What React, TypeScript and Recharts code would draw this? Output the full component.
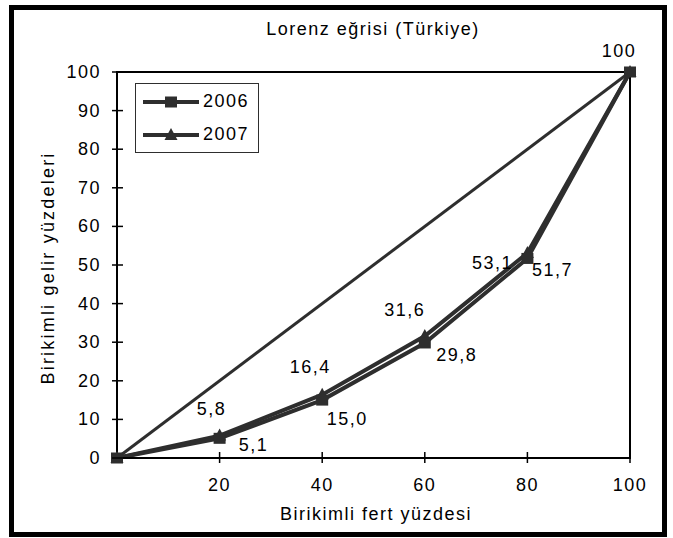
import React from 'react'
import {
  LineChart, Line, XAxis, YAxis, ReferenceLine, ReferenceArea, LabelList,
} from 'recharts'

/* ── data ─────────────────────────────────────────────── */
const fertYuzdesi = [0, 20, 40, 60, 80, 100]
const gelir2006 = [0, 5.1, 15.0, 29.8, 51.7, 100]
const gelir2007 = [0, 5.8, 16.4, 31.6, 53.1, 100]
const xTicks = [20, 40, 60, 80, 100]
const yTicks = [0, 10, 20, 30, 40, 50, 60, 70, 80, 90, 100]

const TITLE = 'Lorenz eğrisi (Türkiye)'
const X_LABEL = 'Birikimli fert yüzdesi'
const Y_LABEL = 'Birikimli gelir yüzdeleri'

const rows = fertYuzdesi.map((x, i) => ({ x, y2006: gelir2006[i], y2007: gelir2007[i] }))

/* ── styles ───────────────────────────────────────────── */
const FONT = '"Liberation Sans", Arial, sans-serif'
const FS = 18
const LS = 1.5
const INK = '#000'
const LINE = '#2e2e2e'

// label offsets (dx, dy) from each point; null = no label
const OFFS_2006: ([number, number] | null)[] = [null, [34, 7], [25, 19], [32, 12], [25, 12], [-11, -21]]
const OFFS_2007: ([number, number] | null)[] = [null, [-8, -27], [-12, -28], [-20, -26], [-35, 10], null]

const fmt = (v: number) => (v === 100 ? '100' : v.toFixed(1).replace('.', ','))

const makeLabel = (offs: ([number, number] | null)[]) => (props: any) => {
  const { x, y, value, index } = props
  const o = offs[index]
  if (!o) return null
  return (
    <text x={x + o[0]} y={y + o[1]} textAnchor="middle" dominantBaseline="central"
      fontFamily={FONT} fontSize={FS} letterSpacing={LS} fill={INK}>
      {fmt(value)}
    </text>
  )
}

const Square = (props: any) => {
  const { cx, cy } = props
  if (cx == null || cy == null) return null
  return <rect x={cx - 6} y={cy - 5.5} width={12} height={11} fill={LINE} />
}

const Triangle = (props: any) => {
  const { cx, cy } = props
  if (cx == null || cy == null) return null
  return <path d={`M${cx},${cy - 7} L${cx + 6.5},${cy + 5} L${cx - 6.5},${cy + 5} Z`} fill={LINE} />
}

const YTick = (props: any) => {
  const { x, y, payload } = props
  return (
    <g>
      <line x1={x - 5} x2={x + 6} y1={y} y2={y} stroke={INK} strokeWidth={1.5} />
      <text x={x - 16} y={y} textAnchor="end" dominantBaseline="central"
        fontFamily={FONT} fontSize={FS} letterSpacing={LS} fill={INK}>{payload.value}</text>
    </g>
  )
}

const XTick = (props: any) => {
  const { x, y, payload } = props
  return (
    <g>
      <line x1={x} x2={x} y1={y - 6} y2={y + 5} stroke={INK} strokeWidth={1.5} />
      <text x={x} y={y + 27} textAnchor="middle" dominantBaseline="central"
        fontFamily={FONT} fontSize={FS} letterSpacing={LS} fill={INK}>{payload.value}</text>
    </g>
  )
}

const ChartLegend = () => (
  <div style={{
    position: 'absolute', left: 135, top: 83, width: 124, height: 70,
    border: `1px solid ${LINE}`, background: '#fff',
    fontFamily: FONT, fontSize: FS, letterSpacing: LS, color: INK, boxSizing: 'border-box',
  }}>
    {[{ name: '2006', Mark: Square }, { name: '2007', Mark: Triangle }].map(({ name, Mark }, i) => (
      <div key={name} style={{ display: 'flex', alignItems: 'center', height: 33, marginTop: i === 0 ? 1 : 0 }}>
        <svg width={62} height={20} style={{ marginLeft: 6 }}>
          <line x1={1} x2={57} y1={10} y2={10} stroke={LINE} strokeWidth={4} />
          <Mark cx={29} cy={10} />
        </svg>
        <span style={{ marginLeft: -1 }}>{name}</span>
      </div>
    ))}
  </div>
)

export default function App() {
  return (
    <div style={{ position: 'absolute', left: 0, top: 0, width: 673, height: 538, background: '#fff' }}>
      <div style={{
        position: 'absolute', left: 9, top: 5, width: 658, height: 532,
        border: '5px solid #000', boxSizing: 'border-box',
      }} />
      <div style={{
        position: 'absolute', left: 173, width: 400, top: 18, textAlign: 'center',
        fontFamily: FONT, fontSize: FS, letterSpacing: LS, color: INK, lineHeight: '22px',
      }}>{TITLE}</div>
      <div style={{ position: 'absolute', left: 0, top: 0 }}>
        <LineChart width={673} height={538} data={rows}
          margin={{ top: 72, right: 43, left: 57, bottom: 50 }}>
          <XAxis dataKey="x" type="number" domain={[0, 100]} ticks={xTicks} interval={0}
            axisLine={{ stroke: INK, strokeWidth: 2 }} tickLine={false} tickSize={0} tickMargin={0}
            tick={<XTick />} height={30}
            label={{
              content: () => (
                <text x={376} y={514} textAnchor="middle" dominantBaseline="central"
                  fontFamily={FONT} fontSize={FS} letterSpacing={LS} fill={INK}>{X_LABEL}</text>
              ),
            }} />
          <YAxis type="number" domain={[0, 100]} ticks={yTicks} interval={0} width={60}
            axisLine={{ stroke: INK, strokeWidth: 2 }} tickLine={false} tickSize={0} tickMargin={0}
            tick={<YTick />}
            label={{
              content: () => (
                <text x={48} y={268} textAnchor="middle" dominantBaseline="central"
                  transform="rotate(-90 48 268)"
                  fontFamily={FONT} fontSize={FS} letterSpacing={2.2} fill={INK}>{Y_LABEL}</text>
              ),
            }} />
          <ReferenceArea x1={0} x2={100} y1={0} y2={100} fill="none" stroke={INK} strokeWidth={2} />
          <ReferenceLine segment={[{ x: 0, y: 0 }, { x: 100, y: 100 }]} stroke={LINE} strokeWidth={3} />
          <Line dataKey="y2007" name="2007" stroke={LINE} strokeWidth={4} type="linear"
            dot={<Triangle />} activeDot={false} isAnimationActive={false}>
            <LabelList dataKey="y2007" content={makeLabel(OFFS_2007)} />
          </Line>
          <Line dataKey="y2006" name="2006" stroke={LINE} strokeWidth={4} type="linear"
            dot={<Square />} activeDot={false} isAnimationActive={false}>
            <LabelList dataKey="y2006" content={makeLabel(OFFS_2006)} />
          </Line>
        </LineChart>
      </div>
      <ChartLegend />
    </div>
  )
}
